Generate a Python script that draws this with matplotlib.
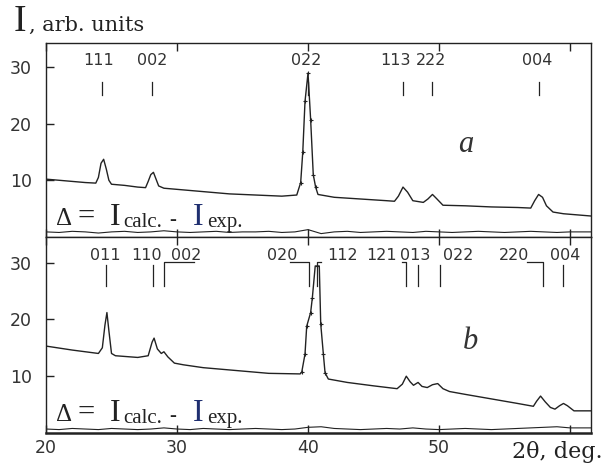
import matplotlib.pyplot as plt

# ---- panel a: experimental profile ----
a_x = [20.0, 21.0, 22.0, 23.0, 23.8, 24.0, 24.2, 24.4, 24.6, 24.8, 25.0, 26.0, 27.0, 27.6,
       27.8, 28.0, 28.2, 28.4, 28.6, 29.0, 30.0, 32.0, 34.0, 36.0, 38.0, 39.14, 39.44, 39.6,
       39.77, 40.0, 40.2, 40.4, 40.58, 40.76, 42.0, 44.0, 46.0, 46.6, 46.9, 47.25, 47.6, 48.0,
       48.8, 49.15, 49.5, 49.8, 50.3, 52.0, 54.0, 56.0, 57.0, 57.3, 57.6, 57.9, 58.2, 58.7,
       59.5, 61.6]
a_y = [10.2, 10.0, 9.8, 9.6, 9.5, 10.5, 13.0, 13.7, 12.0, 10.0, 9.3, 9.1, 8.8, 8.7,
       9.8, 11.0, 11.4, 10.2, 9.0, 8.6, 8.4, 8.0, 7.6, 7.4, 7.2, 7.4, 9.6, 15.0,
       23.9, 28.9, 20.7, 11.0, 8.8, 7.5, 7.0, 6.7, 6.4, 6.3, 7.2, 8.8, 7.9, 6.4,
       6.1, 6.7, 7.5, 6.8, 5.6, 5.5, 5.3, 5.2, 5.1, 6.4, 7.5, 7.0, 5.5, 4.4,
       4.1, 3.7]
a_pts_x = [39.44, 39.6, 39.77, 40.0, 40.2, 40.4, 40.58]
a_pts_y = [9.6, 15.0, 23.9, 28.9, 20.7, 11.0, 8.8]

# ---- panel b: experimental profile ----
b_x = [20.0, 22.0, 24.0, 24.3, 24.5, 24.65, 24.8, 25.0, 25.3, 27.0, 27.8, 28.1, 28.25,
       28.5, 28.8, 29.0, 29.3, 29.8, 30.5, 32.0, 35.0, 37.0, 39.4, 39.52, 39.77, 39.9,
       40.2, 40.33, 40.55, 40.86, 40.97, 41.17, 41.3, 41.55, 43.0, 45.0, 46.8, 47.2, 47.5,
       47.8, 48.05, 48.4, 48.7, 49.1, 49.5, 49.9, 50.3, 50.8, 52.0, 54.0, 56.0, 57.2,
       57.45, 57.75, 58.1, 58.5, 58.85, 59.2, 59.5, 59.8, 60.3, 61.6]
b_y = [15.3, 14.6, 14.0, 15.0, 19.0, 21.2, 18.0, 14.0, 13.6, 13.3, 13.6, 16.0, 16.7,
       14.8, 14.0, 14.3, 13.4, 12.3, 12.0, 11.5, 10.9, 10.5, 10.4, 10.7, 13.9, 18.8,
       21.2, 23.8, 29.4, 29.4, 19.2, 13.9, 10.6, 9.5, 8.9, 8.3, 7.8, 8.6, 10.0,
       9.0, 8.4, 8.9, 8.2, 8.0, 8.5, 8.7, 7.8, 7.3, 6.8, 6.0, 5.2, 4.7,
       5.6, 6.5, 5.5, 4.5, 4.2, 4.8, 5.2, 4.8, 3.9, 3.9]
b_pts_x = [39.52, 39.77, 39.9, 40.2, 40.33, 40.7, 40.97, 41.17, 41.3]
b_pts_y = [10.7, 13.9, 18.8, 21.2, 23.8, 29.4, 19.2, 13.9, 10.6]

# ---- difference curves (I_calc - I_exp) ----
res_x = [20, 21, 22, 23, 24, 25, 26, 27, 28, 29, 30, 31, 32, 33, 34, 35, 36, 37, 38, 39,
         40, 41, 42, 43, 44, 45, 46, 47, 48, 49, 50, 51, 52, 53, 54, 55, 56, 57, 58, 59,
         60, 61.6]
res_a = [0.9, 0.8, 1.0, 0.9, 0.7, 0.9, 1.0, 0.8, 0.9, 1.1, 0.9, 0.8, 0.9, 1.0, 0.8, 0.9,
         0.9, 1.0, 0.8, 0.9, 1.3, 0.6, 0.9, 1.0, 0.8, 0.9, 1.0, 0.9, 0.8, 1.0, 0.9, 0.8,
         0.9, 1.0, 0.9, 0.8, 0.9, 1.0, 0.9, 0.8, 0.9, 0.9]
res_b = [0.7, 0.6, 0.8, 0.7, 0.6, 0.8, 0.7, 0.6, 0.7, 0.9, 0.7, 0.6, 0.8, 0.7, 0.6, 0.7,
         0.8, 0.7, 0.6, 0.7, 1.0, 1.1, 0.8, 0.7, 0.6, 0.7, 0.8, 0.7, 0.9, 0.7, 0.6, 0.7,
         0.8, 0.7, 0.6, 0.7, 0.8, 0.9, 1.0, 1.1, 0.9, 0.9]

# ---- reflection marks ----
hkl_a = ['111', '002', '022', '113', '222', '004']
hkl_a_pos = [24.3, 28.1, 40.0, 47.25, 49.5, 57.6]
hkl_a_text = [24.0, 28.1, 39.85, 46.7, 49.4, 57.5]

hkl_b = ['011', '110', '002', '020', '112', '121', '013', '022', '220', '004']
hkl_b_pos = [24.6, 28.2, 29.0, 40.1, 40.7, 47.5, 48.4, 50.1, 57.9, 59.5]
hkl_b_text = [24.5, 27.7, 30.7, 38.0, 42.6, 45.6, 48.2, 51.5, 55.7, 59.6]
hkl_b_lead = [None, None, 31.3, 38.6, 41.0, 47.2, None, None, 56.7, None]

ink = '#222222'
serif = 'Liberation Serif'

fig = plt.figure(figsize=(6.1, 4.67), dpi=100)
W, H = 610, 467
ax_a = fig.add_axes([46 / W, 1 - 237 / H, 545 / W, 194 / H])
ax_b = fig.add_axes([46 / W, 1 - 433 / H, 545 / W, 196 / H])

for ax, ymax in ((ax_a, 34.2), (ax_b, 34.5)):
    ax.set_xlim(20, 61.6)
    ax.set_ylim(0, ymax)
    ax.set_yticks([10, 20, 30])
    ax.set_xticks([20, 30, 40, 50, 60])
    ax.tick_params(axis='y', direction='in', length=6, width=1, pad=10,
                   labelsize=12.5, labelcolor='#333333', colors=ink)
    ax.tick_params(axis='x', direction='in', length=6, width=1, top=True,
                   labelsize=12.5, labelcolor='#333333', colors=ink, pad=4)
    for s in ax.spines.values():
        s.set_linewidth(1.0)
        s.set_color(ink)

ax_a.tick_params(axis='x', labelbottom=False)
ax_b.set_xticklabels(['20', '30', '40', '50', ''])
ax_b.spines['bottom'].set_linewidth(1.8)

# curves
ax_a.plot(a_x, a_y, color=ink, lw=1.0)
ax_a.plot(a_pts_x, a_pts_y, '+', color=ink, ms=3, mew=0.8)
ax_a.plot(res_x, res_a, color=ink, lw=0.8)
ax_b.plot(b_x, b_y, color=ink, lw=1.0)
ax_b.plot(b_pts_x, b_pts_y, '+', color=ink, ms=3, mew=0.8)
ax_b.plot(res_x, res_b, color=ink, lw=0.8)

# reflection marks, panel a
for lab, p, tx in zip(hkl_a, hkl_a_pos, hkl_a_text):
    ax_a.plot([p, p], [25.1, 27.4], color=ink, lw=0.9)
    ax_a.text(tx, 30.4, lab, ha='center', va='baseline', fontsize=11.5, color='#333333')

# reflection marks, panel b
for lab, p, tx, lead in zip(hkl_b, hkl_b_pos, hkl_b_text, hkl_b_lead):
    if lead is None:
        ax_b.plot([p, p], [25.8, 29.6], color=ink, lw=0.9)
    else:
        ax_b.plot([p, p, lead], [25.8, 30.1, 30.1], color=ink, lw=0.9)
    ax_b.text(tx, 30.4, lab, ha='center', va='baseline', fontsize=11.5, color='#333333')

# difference formula in each panel
for ax in (ax_a, ax_b):
    ax.text(20.8, 2.1, '\u0394', fontsize=18, family=serif, color=ink, va='baseline')
    ax.text(22.4, 2.1, '=', fontsize=22, family=serif, color=ink, va='baseline')
    ax.text(24.9, 2.1, 'I', fontsize=23, family=serif, color=ink, va='baseline')
    ax.text(25.9, 1.8, 'calc.', fontsize=15, family=serif, color=ink, va='baseline')
    ax.text(29.4, 2.1, '-', fontsize=15, family=serif, color=ink, va='baseline')
    ax.text(31.2, 2.1, 'I', fontsize=23, family=serif, color='#1f2f70', va='baseline')
    ax.text(32.3, 1.8, 'exp.', fontsize=15, family=serif, color=ink, va='baseline')

ax_a.text(52.0, 16.3, 'a', fontsize=22, family=serif, style='italic', color='#333333',
          ha='center', va='center')
ax_b.text(52.4, 16.1, 'b', fontsize=22, family=serif, style='italic', color='#333333',
          ha='center', va='center')

# axis titles
fig.text(14 / W, 1 - 31 / H, 'I', fontsize=27, family=serif, color=ink, va='baseline')
fig.text(29 / W, 1 - 31 / H, ', arb. units', fontsize=15, family='DejaVu Serif',
         color=ink, va='baseline')
fig.text(512 / W, 1 - 458 / H, '2\u03b8, deg.', fontsize=16, family='DejaVu Serif',
         color=ink, va='baseline')

fig.savefig('out.png', dpi=100)
